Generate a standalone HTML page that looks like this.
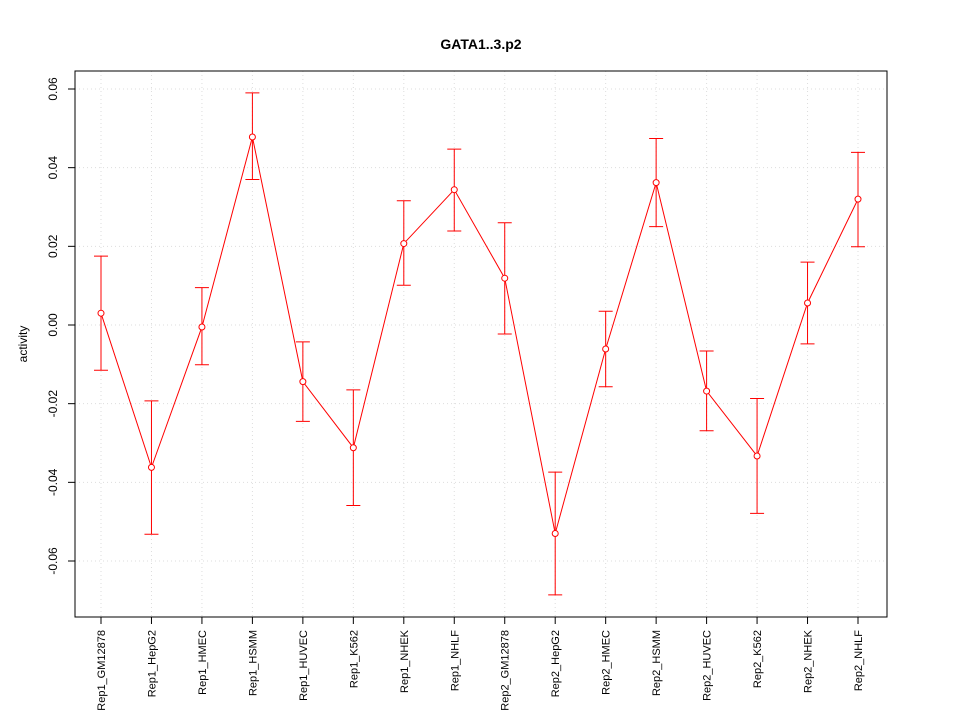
<!DOCTYPE html>
<html><head><meta charset="utf-8"><style>body{margin:0;background:#fff}svg{display:block;font-family:"Liberation Sans",sans-serif}</style></head>
<body>
<svg id="chart" width="960" height="720" xmlns="http://www.w3.org/2000/svg">
<rect width="960" height="720" fill="#fff"/>
<text x="481" y="49" text-anchor="middle" font-size="14" font-weight="bold">GATA1..3.p2</text>
<text transform="translate(27,344) rotate(-90)" text-anchor="middle" font-size="12">activity</text>
<g id="grid"></g><g id="axes"></g><g id="marks"></g>
<rect x="75" y="71" width="812" height="546" fill="none" stroke="#000"/>
</svg>
<script>
const categories=["Rep1_GM12878","Rep1_HepG2","Rep1_HMEC","Rep1_HSMM","Rep1_HUVEC","Rep1_K562","Rep1_NHEK","Rep1_NHLF","Rep2_GM12878","Rep2_HepG2","Rep2_HMEC","Rep2_HSMM","Rep2_HUVEC","Rep2_K562","Rep2_NHEK","Rep2_NHLF"];
const values=[0.003,-0.0362,-0.0005,0.0478,-0.0144,-0.0312,0.0207,0.0344,0.0119,-0.053,-0.0061,0.0362,-0.0168,-0.0333,0.0056,0.032];
const upper=[0.0175,-0.0193,0.0095,0.059,-0.0043,-0.0165,0.0316,0.0447,0.026,-0.0374,0.0035,0.0474,-0.0066,-0.0187,0.016,0.0439];
const lower=[-0.0115,-0.0532,-0.0101,0.037,-0.0245,-0.0459,0.0101,0.0239,-0.0023,-0.0686,-0.0157,0.025,-0.0269,-0.0479,-0.0048,0.0199];
const yTicks=[-0.06,-0.04,-0.02,0.00,0.02,0.04,0.06];
const yTickLabels=["-0.06","-0.04","-0.02","0.00","0.02","0.04","0.06"];
const NS="http://www.w3.org/2000/svg";
const x=i=>101+i*(858-101)/(categories.length-1);
const y=v=>325-v*(78.67/0.02);
function mk(p,t,a){const e=document.createElementNS(NS,t);for(const k in a)e.setAttribute(k,a[k]);document.getElementById(p).appendChild(e);return e;}
yTicks.forEach((t,i)=>{
 let g=mk('grid','line',{x1:75,x2:887,y1:y(t),y2:y(t),stroke:'#dddddd','stroke-dasharray':'1,3'});
 
 
 let k=mk('axes','line',{x1:68,x2:75,y1:y(t),y2:y(t),stroke:'#000'});
 
 
 let l=mk('axes','text',{x:0,y:0,transform:`translate(57,${y(t)}) rotate(-90)`,'text-anchor':'middle','font-size':12});
 l.textContent=yTickLabels[i];
 
 
});
categories.forEach((c,i)=>{
 let g=mk('grid','line',{x1:x(i),x2:x(i),y1:71,y2:617,stroke:'#dddddd','stroke-dasharray':'1,3'});
 
 
 let k=mk('axes','line',{x1:x(i),x2:x(i),y1:617,y2:624,stroke:'#000'});
 
 
 let l=mk('axes','text',{x:0,y:0,transform:`translate(${x(i)+4},630) rotate(-90)`,'text-anchor':'end','font-size':11});
 l.textContent=c;
 
 
});
let pl=mk('marks','polyline',{points:values.map((v,i)=>x(i)+','+y(v)).join(' '),fill:'none',stroke:'#f00'});


values.forEach((v,i)=>{
 const X=x(i);
 let e=mk('marks','path',{d:`M${X},${y(upper[i])}V${y(lower[i])}M${X-7},${y(upper[i])}H${X+7}M${X-7},${y(lower[i])}H${X+7}`,stroke:'#f00',fill:'none'});
 
 
 let p=mk('marks','circle',{cx:X,cy:y(v),r:3,fill:'#fff',stroke:'#f00'});
 
 
});
</script>
</body></html>
